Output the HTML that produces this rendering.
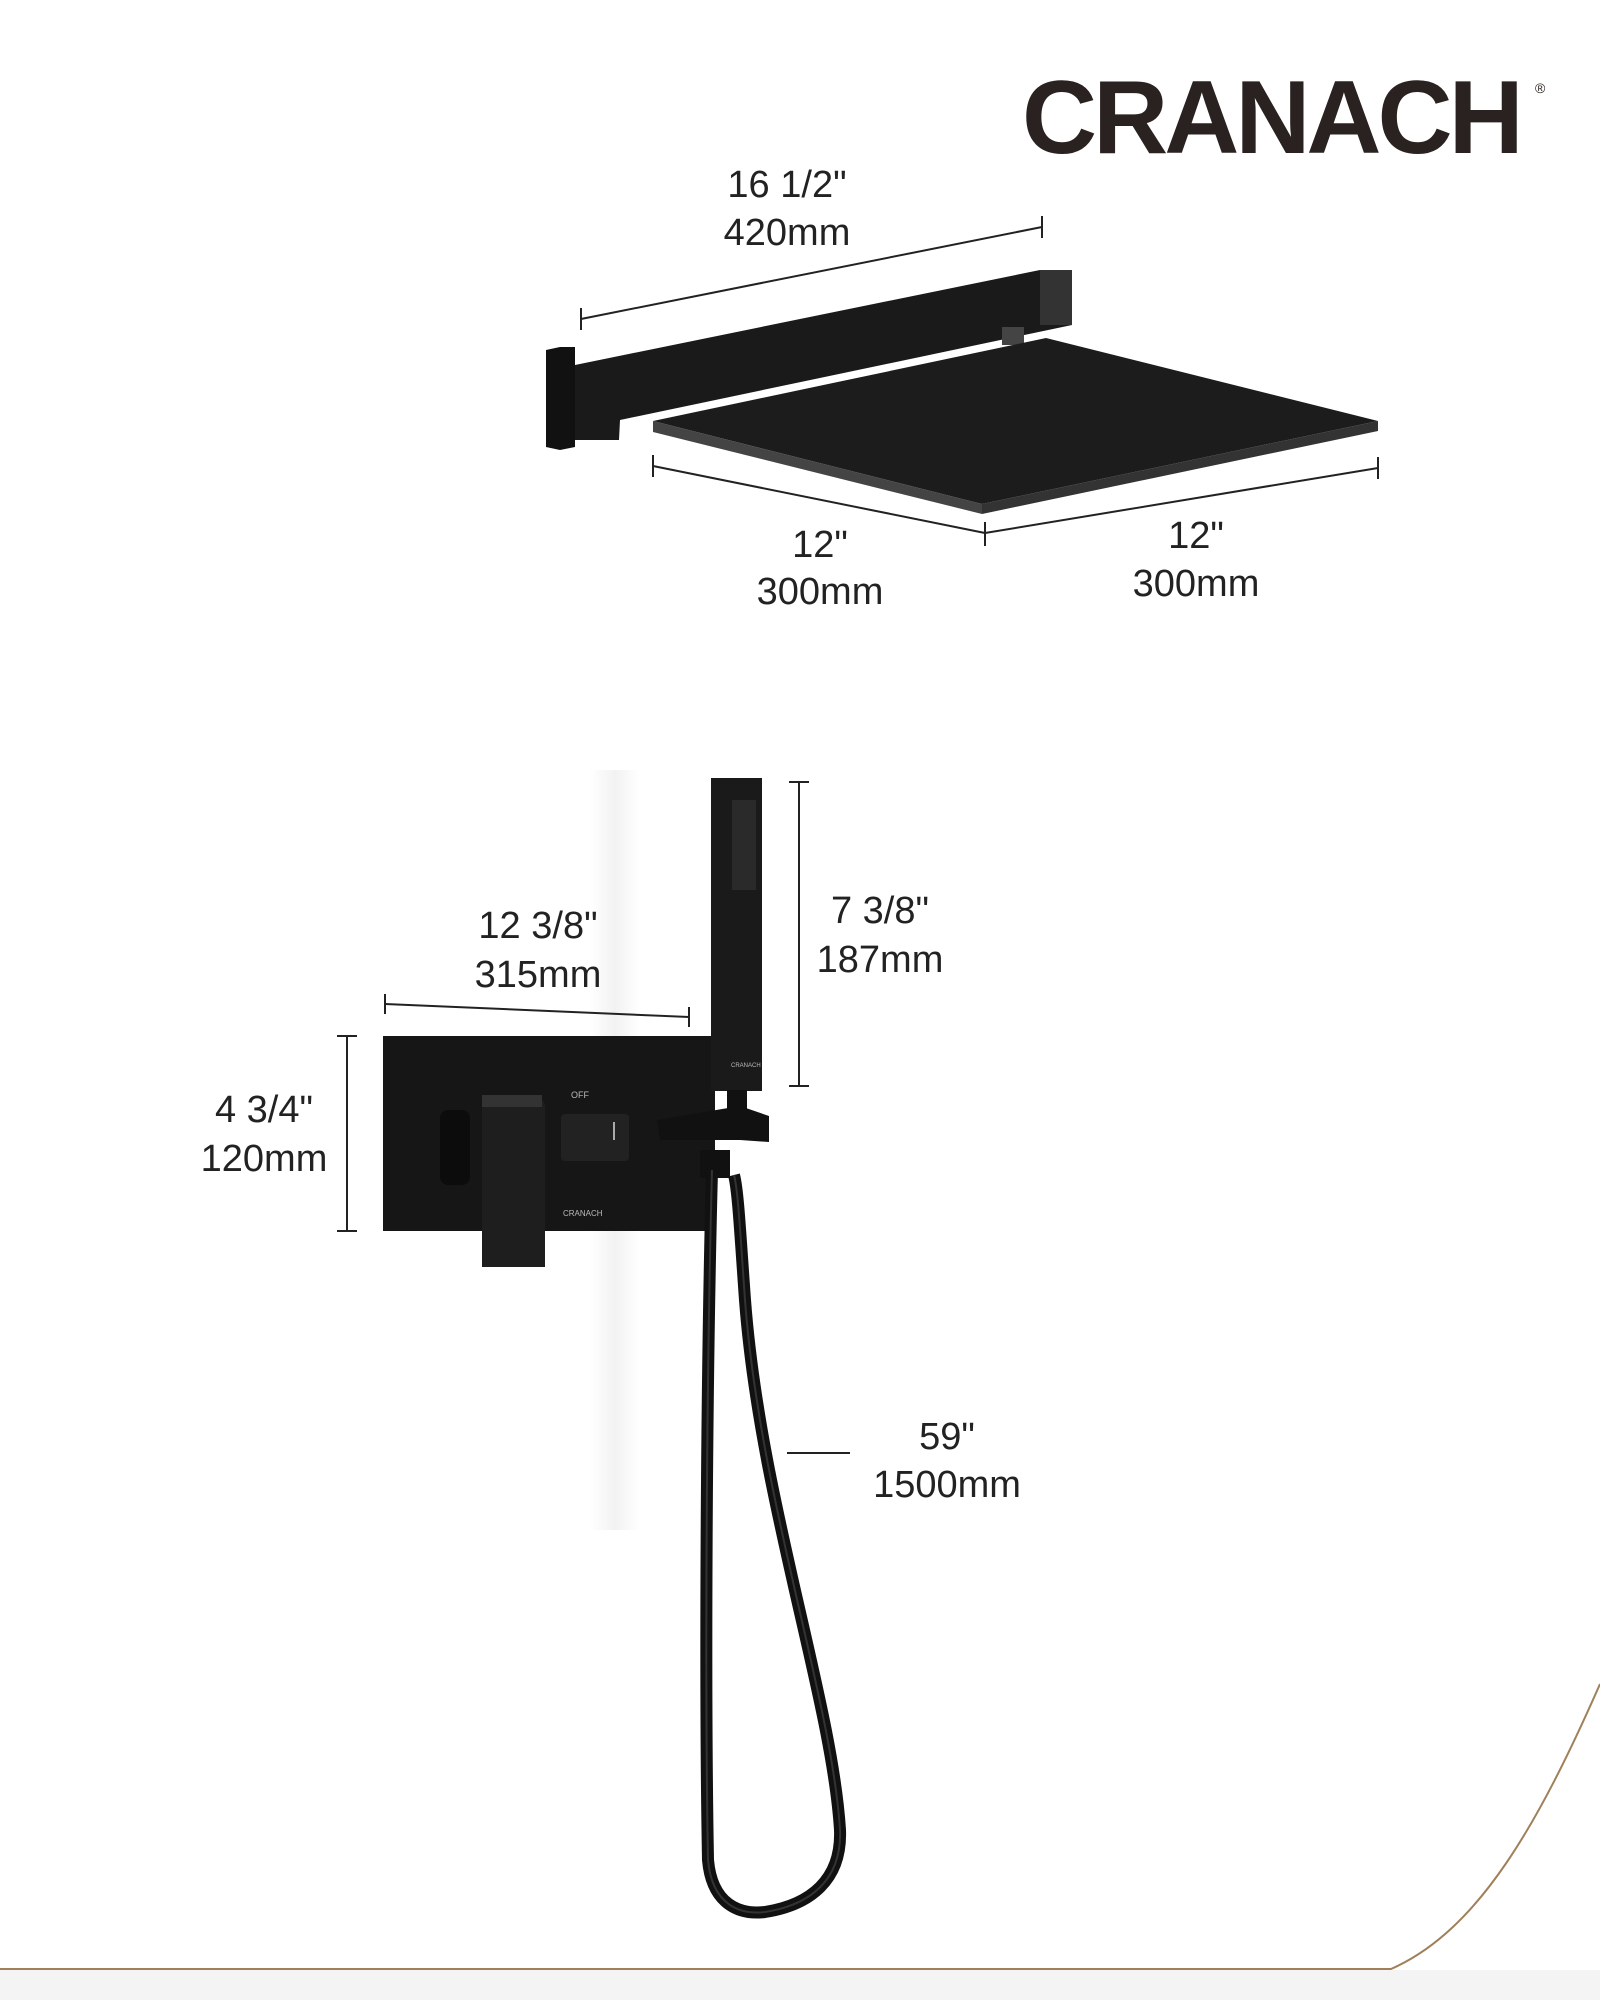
<!DOCTYPE html>
<html><head><meta charset="utf-8"><style>
html,body{margin:0;padding:0;background:#fff}
body{width:1600px;height:2000px;position:relative;overflow:hidden;font-family:"Liberation Sans",sans-serif;color:#222}
.t{position:absolute;font-size:38px;text-align:center;width:300px;margin-left:-150px;line-height:1}
</style></head><body>
<svg width="1600" height="2000" style="position:absolute;left:0;top:0">
<defs>
<linearGradient id="sh" x1="0" x2="1"><stop offset="0" stop-color="#fff"/><stop offset="0.5" stop-color="#f2f2f2"/><stop offset="1" stop-color="#fff"/></linearGradient>
</defs>
<rect x="590" y="770" width="50" height="760" fill="url(#sh)"/>
<rect x="0" y="1970" width="1600" height="30" fill="#f4f4f4"/>
<path d="M1600 1684 C1540 1820 1480 1930 1391 1969 L0 1969" fill="none" stroke="#a0805a" stroke-width="2"/>
<g stroke="#222" stroke-width="2" fill="none">
<line x1="581" y1="319" x2="1042" y2="227"/><line x1="581" y1="308" x2="581" y2="330"/><line x1="1042" y1="216" x2="1042" y2="238"/>
<line x1="653" y1="466" x2="985" y2="533"/><line x1="985" y1="533" x2="1378" y2="468"/>
<line x1="653" y1="455" x2="653" y2="477"/><line x1="985" y1="522" x2="985" y2="546"/><line x1="1378" y1="457" x2="1378" y2="479"/>
<line x1="385" y1="994" x2="385" y2="1014"/><line x1="385" y1="1004" x2="689" y2="1017"/><line x1="689" y1="1007" x2="689" y2="1027"/>
<line x1="347" y1="1036" x2="347" y2="1231"/><line x1="337" y1="1036" x2="357" y2="1036"/><line x1="337" y1="1231" x2="357" y2="1231"/>
<line x1="799" y1="782" x2="799" y2="1086"/><line x1="789" y1="782" x2="809" y2="782"/><line x1="789" y1="1086" x2="809" y2="1086"/>
<line x1="787" y1="1453" x2="850" y2="1453"/>
</g>
<polygon points="546,350 560,347 575,347 575,447 560,450 546,447" fill="#111"/>
<polygon points="575,365 1040,270 1072,270 1072,325 620,420 619,440 575,440" fill="#1a1a1a"/>
<polygon points="1040,270 1072,270 1072,325 1040,325" fill="#333"/>
<rect x="1002" y="327" width="22" height="18" fill="#444"/>
<polygon points="653,421 1046,338 1378,421 982,504" fill="#1c1c1c"/>
<polygon points="653,421 982,504 982,514 653,432" fill="#444"/>
<polygon points="982,504 1378,421 1378,431 982,514" fill="#333"/>
<rect x="383" y="1036" width="332" height="195" fill="#161616"/>
<rect x="440" y="1110" width="30" height="75" rx="8" fill="#0c0c0c"/>
<polygon points="482,1095 540,1095 545,1105 545,1267 482,1267" fill="#1e1e1e"/>
<rect x="482" y="1095" width="60" height="12" fill="#333"/>
<rect x="561" y="1114" width="68" height="47" rx="4" fill="#222"/>
<line x1="614" y1="1122" x2="614" y2="1140" stroke="#aaa" stroke-width="2"/>
<rect x="711" y="778" width="51" height="313" fill="#1a1a1a"/>
<rect x="732" y="800" width="24" height="90" fill="#2a2a2a"/>
<polygon points="657,1120 740,1106 769,1116 769,1142 740,1140 660,1140" fill="#111"/>
<rect x="727" y="1090" width="20" height="40" fill="#111"/>
<rect x="700" y="1150" width="30" height="28" fill="#111"/>
<path d="M712 1170 C706 1400 705 1700 708 1860 C712 1905 740 1915 765 1912 C810 1905 842 1880 840 1830 C832 1700 760 1500 745 1300 C740 1230 738 1190 734 1175" fill="none" stroke="#111" stroke-width="12"/>
<path d="M712 1170 C706 1400 705 1700 708 1860 C712 1905 740 1915 765 1912 C810 1905 842 1880 840 1830 C832 1700 760 1500 745 1300 C740 1230 738 1190 734 1175" fill="none" stroke="#333" stroke-width="2"/>
</svg>
<div style="position:absolute;left:1022px;top:66px;font-size:104px;font-weight:bold;color:#2a2220;letter-spacing:-4px;line-height:1">CRANACH</div>
<div style="position:absolute;left:1535px;top:80px;font-size:14px;color:#2a2220">®</div>
<div class="t" style="left:787px;top:166px">16 1/2"</div>
<div class="t" style="left:787px;top:214px">420mm</div>
<div class="t" style="left:820px;top:526px">12"</div>
<div class="t" style="left:820px;top:573px">300mm</div>
<div class="t" style="left:1196px;top:517px">12"</div>
<div class="t" style="left:1196px;top:565px">300mm</div>
<div class="t" style="left:538px;top:907px">12 3/8"</div>
<div class="t" style="left:538px;top:956px">315mm</div>
<div class="t" style="left:264px;top:1091px">4 3/4"</div>
<div class="t" style="left:264px;top:1140px">120mm</div>
<div class="t" style="left:880px;top:892px">7 3/8"</div>
<div class="t" style="left:880px;top:941px">187mm</div>
<div class="t" style="left:947px;top:1418px">59"</div>
<div class="t" style="left:947px;top:1466px">1500mm</div>
<div style="position:absolute;left:571px;top:1090px;font-size:9px;color:#bbb">OFF</div>
<div style="position:absolute;left:563px;top:1209px;font-size:8px;color:#bbb">CRANACH</div>
<div style="position:absolute;left:731px;top:1063px;font-size:6px;color:#bbb">CRANACH</div>
</body></html>
